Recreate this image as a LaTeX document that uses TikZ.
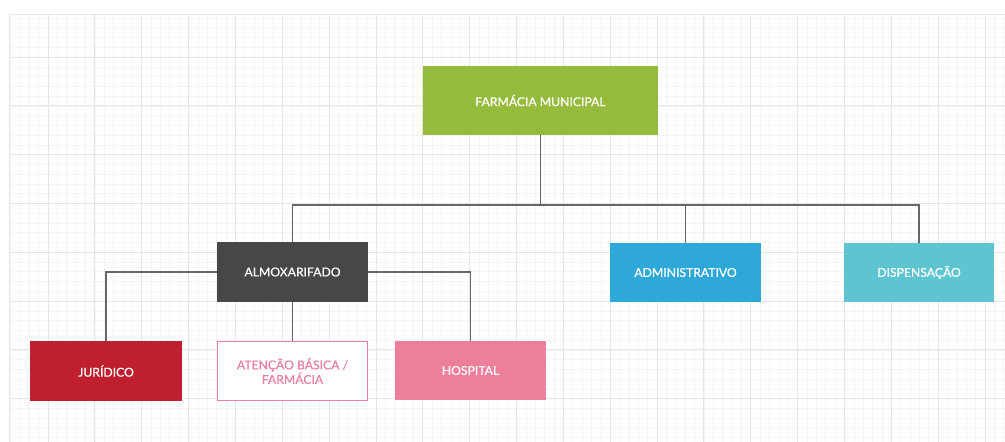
\documentclass[tikz,border=0pt]{standalone}
\usepackage{fontspec}
\setmainfont{Lato}
\newfontfamily\medfont[FakeBold=0.6]{Lato}
\definecolor{cgreen}{HTML}{95BB3C}
\definecolor{cdark}{HTML}{474747}
\definecolor{cblue}{HTML}{2EA7D9}
\definecolor{ccyan}{HTML}{5EC4D1}
\definecolor{cred}{HTML}{C0202D}
\definecolor{cpink}{HTML}{EE7F9C}
\definecolor{cpinkline}{HTML}{E8819F}
\definecolor{cline}{HTML}{666666}
\definecolor{gminor}{HTML}{F5F5F5}
\definecolor{gmajor}{HTML}{E6E6E6}
\tikzset{
  box/.style={rectangle, inner sep=0pt, minimum width=151pt, minimum height=60pt,
    text=white, font=\medfont\fontsize{12.2}{14.5}\selectfont, align=center},
  conn/.style={draw=cline, line width=1.5pt},
}
\begin{document}
\begin{tikzpicture}[x=1pt,y=-1pt]
\useasboundingbox (0,0) rectangle (1005,442);
\fill[white] (0,0) rectangle (1005,442);
% grid
\begin{scope}
\clip (9,14) rectangle (1005,442);
\foreach \i in {0,...,106} {
  \draw[gminor, line width=0.6pt] ({10.5+\i*9.37},14) -- ({10.5+\i*9.37},442);
}
\foreach \i in {0,...,43} {
  \draw[gminor, line width=0.6pt] (9,{18+\i*9.76}) -- (1005,{18+\i*9.76});
}
\foreach \i in {0,...,21} {
  \draw[gmajor, line width=0.9pt] ({48+\i*46.85},14) -- ({48+\i*46.85},442);
}
\foreach \i in {0,...,8} {
  \draw[gmajor, line width=0.9pt] (9,{57+\i*48.8}) -- (1005,{57+\i*48.8});
}
\draw[gmajor, line width=0.9pt] (9,14) -- (1005,14);
\draw[gmajor, line width=0.9pt] (9,14) -- (9,442);
\end{scope}
% nodes
\node[box, fill=cgreen, minimum width=235pt, minimum height=69pt] (fm) at (540.5,100.5) {FARMÁCIA MUNICIPAL};
\node[box, fill=cdark] (alm) at (292.5,272) {ALMOXARIFADO};
\node[box, fill=cblue, minimum height=59pt] (adm) at (685.5,272.5) {ADMINISTRATIVO};
\node[box, fill=ccyan, minimum width=150pt, minimum height=59pt] (dis) at (919,272.5) {DISPENSAÇÃO};
\node[box, fill=cred, minimum width=152pt] (jur) at (106,371) {JURÍDICO};
\node[box, fill=white, draw=cpinkline, line width=1.2pt, text=cpinkline, minimum width=150pt, minimum height=59pt] (ate) at (292.5,371) {ATENÇÃO BÁSICA /\\FARMÁCIA};
\node[box, fill=cpink, minimum height=59pt] (hos) at (470.5,370.5) {HOSPITAL};
% connectors
\coordinate (bus) at (540,205);
\draw[conn] (fm.south) -- (fm.south |- bus);
\draw[conn] (alm.north) -- (alm.north |- bus) -- (dis.north |- bus) -- (dis.north);
\draw[conn] (adm.north) -- (adm.north |- bus);
\draw[conn] (jur.north) |- (alm.west);
\draw[conn] (hos.north) |- (alm.east);
\draw[conn] (alm.south) -- (ate.north);
\end{tikzpicture}
\end{document}
